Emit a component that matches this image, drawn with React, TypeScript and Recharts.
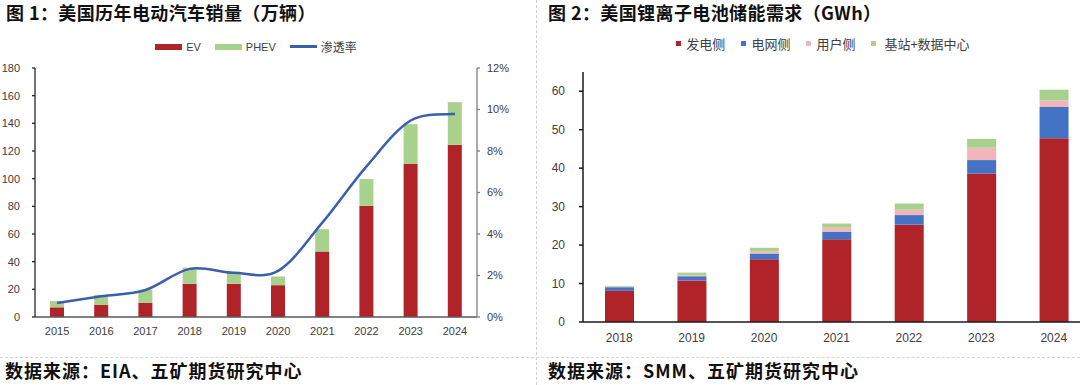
import React from "react";
import { Bar, BarChart, ComposedChart, Legend, Line, XAxis, YAxis } from "recharts";

// 图1：美国历年电动汽车销量（万辆）
const salesYears = ["2015", "2016", "2017", "2018", "2019", "2020", "2021", "2022", "2023", "2024"];
const evSales = [7, 8.7, 10.2, 24, 24, 23, 47.4, 80.3, 110.6, 124.6];
const phevSales = [4.5, 7.3, 9.6, 11.6, 8, 6.3, 16, 19.4, 28.8, 30.7];
const penetration = [0.0068, 0.01, 0.013, 0.0232, 0.0213, 0.0222, 0.0455, 0.0726, 0.0947, 0.0979];
const salesTicks = [0, 20, 40, 60, 80, 100, 120, 140, 160, 180];
const rateTicks = [0, 0.02, 0.04, 0.06, 0.08, 0.1, 0.12];
const salesNames = ["EV", "PHEV", "渗透率"];

// 图2：美国锂离子电池储能需求（GWh）
const storageYears = ["2018", "2019", "2020", "2021", "2022", "2023", "2024"];
const generationSide = [8.1, 10.8, 16.3, 21.5, 25.3, 38.6, 47.8];
const gridSide = [0.95, 1.1, 1.5, 2.0, 2.5, 3.5, 8.1];
const userSide = [0.15, 0.25, 0.6, 1.0, 1.4, 3.2, 1.7];
const telecomSide = [0.2, 0.7, 0.9, 1.1, 1.6, 2.3, 2.8];
const storageTicks = [0, 10, 20, 30, 40, 50, 60];
const storageNames = ["发电侧", "电网侧", "用户侧", "基站+数据中心"];

const salesData = salesYears.map((year, i) => ({
  year,
  ev: evSales[i],
  phev: phevSales[i],
  rate: penetration[i],
}));

const storageData = storageYears.map((year, i) => ({
  year,
  gen: generationSide[i],
  grid: gridSide[i],
  user: userSide[i],
  telecom: telecomSide[i],
}));

const RED = "#AF2329";
const GREEN = "#A9D18E";
const BLUE = "#4472C4";
const PINK = "#F2B5BA";
const LINE_BLUE = "#3A5FAD";
const FONT = '"Liberation Sans", Arial, "Noto Sans CJK SC", sans-serif';
const CJK = '"Noto Sans CJK SC", "Liberation Sans", sans-serif';

// Excel-style smoothed line (Catmull-Rom as cubic beziers)
const excelSmooth = (context: any) => {
  let pts: [number, number][] = [];
  return {
    areaStart() {},
    areaEnd() {},
    lineStart() {
      pts = [];
    },
    point(x: number, y: number) {
      pts.push([+x, +y]);
    },
    lineEnd() {
      if (!pts.length) return;
      context.moveTo(pts[0][0], pts[0][1]);
      for (let i = 0; i < pts.length - 1; i++) {
        const p0 = pts[Math.max(i - 1, 0)];
        const p1 = pts[i];
        const p2 = pts[i + 1];
        const p3 = pts[Math.min(i + 2, pts.length - 1)];
        context.bezierCurveTo(
          p1[0] + (p2[0] - p0[0]) / 6,
          p1[1] + (p2[1] - p0[1]) / 6,
          p2[0] - (p3[0] - p1[0]) / 6,
          p2[1] - (p3[1] - p1[1]) / 6,
          p2[0],
          p2[1]
        );
      }
    },
  };
};

function SalesLegend(props: any) {
  const items = [...(props.payload || [])].sort(
    (a: any, b: any) => salesNames.indexOf(a.value) - salesNames.indexOf(b.value)
  );
  return (
    <div style={{ display: "flex", justifyContent: "center", alignItems: "center", gap: 14, fontFamily: FONT, fontSize: 11, color: "#404040" }}>
      {items.map((item: any) => (
        <div key={item.value} style={{ display: "flex", alignItems: "center", gap: 4 }}>
          {item.type === "line" ? (
            <span style={{ width: 27, height: 2.5, background: item.color, display: "inline-block" }} />
          ) : (
            <span style={{ width: 27, height: 6, background: item.color, display: "inline-block" }} />
          )}
          <span style={{ fontFamily: item.value === "渗透率" ? CJK : FONT, fontSize: item.value === "渗透率" ? 12 : 11 }}>{item.value}</span>
        </div>
      ))}
    </div>
  );
}

function StorageLegend(props: any) {
  const items = [...(props.payload || [])].sort(
    (a: any, b: any) => storageNames.indexOf(a.value) - storageNames.indexOf(b.value)
  );
  return (
    <div style={{ display: "flex", justifyContent: "center", alignItems: "center", gap: 16, fontFamily: CJK, fontSize: 13, color: "#404040" }}>
      {items.map((item: any) => (
        <div key={item.value} style={{ display: "flex", alignItems: "center", gap: item.value === "基站+数据中心" ? 8 : 5 }}>
          <span style={{ width: 5, height: 5, background: item.color, display: "inline-block" }} />
          <span>{item.value}</span>
        </div>
      ))}
    </div>
  );
}

const titleStyle: React.CSSProperties = {
  position: "absolute",
  top: 1,
  fontFamily: CJK,
  fontWeight: 700,
  fontSize: 18,
  lineHeight: "22px",
  letterSpacing: 0.4,
  color: "#111",
  whiteSpace: "nowrap",
};

const sourceStyle: React.CSSProperties = {
  position: "absolute",
  top: 359,
  fontFamily: CJK,
  fontWeight: 700,
  fontSize: 18,
  lineHeight: "22px",
  letterSpacing: 1,
  color: "#111",
  whiteSpace: "nowrap",
};

export default function App() {
  return (
    <div style={{ position: "fixed", left: 0, top: 0, width: 1080, height: 385, overflow: "hidden", background: "#fff" }}>
      <div style={{ ...titleStyle, left: 6 }}>图 1：美国历年电动汽车销量（万辆）</div>
      <div style={{ ...titleStyle, left: 548 }}>图 2：美国锂离子电池储能需求（GWh）</div>

      <div style={{ position: "absolute", left: 0, top: 0, width: 537, height: 355 }}>
        <ComposedChart width={537} height={355} data={salesData} margin={{ top: 68, right: 20, left: 0, bottom: 8 }}>
          <XAxis
            dataKey="year"
            height={30}
            tickLine={false}
            tickMargin={4}
            axisLine={{ stroke: "#595959", strokeWidth: 1.3 }}
            tick={{ fill: "#404040", fontSize: 11, fontFamily: FONT }}
          />
          <YAxis
            yAxisId="sales"
            width={35}
            domain={[0, 180]}
            ticks={salesTicks}
            interval={0}
            tickSize={3}
            tickMargin={12}
            axisLine={{ stroke: "#262626", strokeWidth: 1.3 }}
            tickLine={{ stroke: "#262626", strokeWidth: 1.3 }}
            tick={{ fill: "#404040", fontSize: 11, fontFamily: FONT }}
          />
          <YAxis
            yAxisId="rate"
            orientation="right"
            width={40}
            domain={[0, 0.12]}
            ticks={rateTicks}
            interval={0}
            tickSize={3}
            tickMargin={7}
            tickFormatter={(v: number) => `${Math.round(v * 100)}%`}
            axisLine={{ stroke: "#7f7f7f", strokeWidth: 1.3 }}
            tickLine={{ stroke: "#7f7f7f", strokeWidth: 1.3 }}
            tick={{ fill: "#404040", fontSize: 11, fontFamily: FONT }}
          />
          <Legend
            layout="horizontal"
            verticalAlign="middle"
            align="center"
            wrapperStyle={{ top: 38, left: 35, width: 442, height: 18 }}
            content={SalesLegend}
          />
          <Bar yAxisId="sales" dataKey="ev" name="EV" stackId="s" fill={RED} barSize={14} isAnimationActive={false} />
          <Bar yAxisId="sales" dataKey="phev" name="PHEV" stackId="s" fill={GREEN} barSize={14} isAnimationActive={false} />
          <Line
            yAxisId="rate"
            dataKey="rate"
            name="渗透率"
            type={excelSmooth as any}
            stroke={LINE_BLUE}
            strokeWidth={2.5}
            dot={false}
            activeDot={false}
            legendType="line"
            isAnimationActive={false}
          />
        </ComposedChart>
      </div>

      <div style={{ position: "absolute", left: 537, top: 0, width: 560, height: 355 }}>
        <BarChart width={560} height={355} data={storageData} margin={{ top: 72, right: 7, left: 0, bottom: 5 }}>
          <XAxis
            dataKey="year"
            height={28}
            tickLine={false}
            tickMargin={5}
            axisLine={{ stroke: "#1a1a1a", strokeWidth: 1.5 }}
            tick={{ fill: "#404040", fontSize: 12, fontFamily: FONT }}
          />
          <YAxis
            width={46}
            domain={[0, 65]}
            ticks={storageTicks}
            interval={0}
            tickSize={4}
            tickMargin={14}
            axisLine={{ stroke: "#1a1a1a", strokeWidth: 1.5 }}
            tickLine={{ stroke: "#1a1a1a", strokeWidth: 1.5 }}
            tick={{ fill: "#404040", fontSize: 12, fontFamily: FONT }}
          />
          <Legend
            layout="horizontal"
            verticalAlign="middle"
            align="center"
            wrapperStyle={{ top: 34, left: 86, width: 400, height: 20 }}
            content={StorageLegend}
          />
          <Bar dataKey="gen" name="发电侧" stackId="g" fill={RED} barSize={29} isAnimationActive={false} />
          <Bar dataKey="grid" name="电网侧" stackId="g" fill={BLUE} barSize={29} isAnimationActive={false} />
          <Bar dataKey="user" name="用户侧" stackId="g" fill={PINK} barSize={29} isAnimationActive={false} />
          <Bar dataKey="telecom" name="基站+数据中心" stackId="g" fill={GREEN} barSize={29} isAnimationActive={false} />
        </BarChart>
      </div>

      <div style={{ position: "absolute", left: 536, top: 0, height: 385, borderLeft: "1px dashed #cfcfcf" }} />
      <div style={{ position: "absolute", left: 0, top: 357, width: 1080, borderTop: "1px dashed #d6d6d6" }} />

      <div style={{ ...sourceStyle, left: 5 }}>数据来源：EIA、五矿期货研究中心</div>
      <div style={{ ...sourceStyle, left: 548 }}>数据来源：SMM、五矿期货研究中心</div>
    </div>
  );
}
